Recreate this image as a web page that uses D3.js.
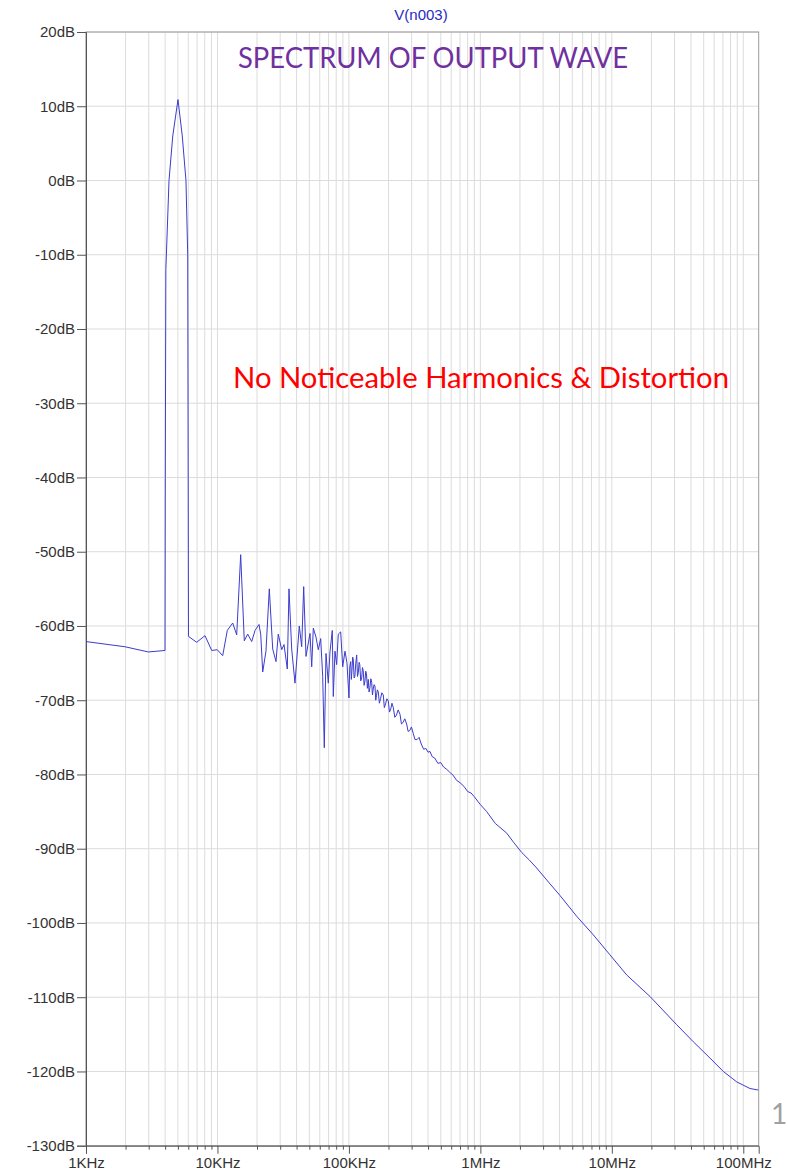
<!DOCTYPE html>
<html><head><meta charset="utf-8">
<script src="https://cdn.jsdelivr.net/npm/d3@7"></script>
<style>body{margin:0;background:#fff}svg{display:block}</style>
</head><body><svg id="c" width="788" height="1172"></svg>
<script>
// ---- data ----
const traceName = "V(n003)";
const chartTitle = "SPECTRUM OF OUTPUT WAVE";
const annotation = "No Noticeable Harmonics & Distortion";
const pageNumber = "1";

const freqKHz = [1.00,1.98,2.98,3.99,4.01,4.05,4.28,4.57,5.01,5.40,5.76,5.94,5.99,6.02,6.95,8.04,9.04,9.97,10.96,11.88,13.06,14.01,15.02,16.0,16.98,18.22,19.31,20.70,21.33,22.09,23.39,24.80,26.32,27.88,29.02,30.81,32.08,33.99,35.01,36.70,38.89,41.93,43.73,45.29,47.16,49.10,50.58,52.12,53.59,56.19,58.50,61.00,63.17,64.97,66.93,69.68,71.79,74.74,76.06,78.36,80.72,83.02,86.59,89.68,93.37,96.69,
  100.1,101.5,103.2,104.3,105.5,106.8,108.0,109.5,111.0,112.8,114.6,116.2,117.9,119.5,121.0,123.0,125.1,126.8,128.5,130.5,132.5,134.2,136.0,138.2,140.4,142.4,144.5,146.8,149.1,151.0,153.0,155.4,157.9,160.0,162.0,164.6,167.3,170.5,174.0,178.0,182.6,186.0,190.0,194.5,199.3,203.5,208.0,212.5,217.6,223.5,230.0,237.0,244.7,251.0,258.0,266.0,275.0,282.0,290.0,299.0,308.9,318.0,330.0,342.0,355.0,370.0,385.0,400.0,413.9,430.0,450.0,475.0,500.0,525.0,554.3,585.0,620.0,660.0,699.8,750.0,800.0,850.0,900.0,993.4,1117,1300,1586,1800,2062,2350,2682,3300,4034,5404,7228,9683,12970,19510,31140,41660,55810,70460,89080,112500,130000];
const magDB = [-62.1,-62.8,-63.5,-63.3,-40,-12,0,6,10.9,6,0,-10,-40,-61.4,-62.2,-61.3,-63.3,-63.2,-64.0,-60.6,-59.6,-61.2,-50.4,-62.0,-61.1,-62.1,-60.6,-59.8,-61.1,-66.2,-63.4,-55.0,-63.1,-64.8,-61.1,-63.2,-62.5,-65.8,-55.0,-63.1,-67.7,-60.0,-62.8,-54.7,-64.1,-62.3,-61.0,-65.5,-60.3,-61.5,-63.2,-61.7,-66.8,-76.4,-63.7,-67.7,-63.5,-60.6,-69.5,-63.4,-65.2,-61.1,-60.8,-65.5,-63.4,-65.0,
  -69.7,-65.5,-64.8,-67.2,-66.0,-64.2,-64.5,-67.0,-66.8,-65.0,-63.9,-66.8,-66.3,-64.9,-65.2,-67.4,-67.0,-65.6,-66.0,-68.0,-67.4,-66.1,-66.4,-68.4,-67.2,-68.9,-68.3,-67.1,-67.6,-69.3,-68.5,-67.9,-68.1,-70.0,-69.4,-68.6,-68.9,-70.4,-69.8,-69.0,-69.3,-71.0,-70.5,-69.8,-70.1,-71.6,-71.2,-70.4,-71.0,-72.3,-72.0,-71.3,-71.9,-73.2,-73.0,-72.5,-73.2,-74.2,-74.1,-73.6,-74.5,-75.3,-75.3,-75.0,-75.9,-76.6,-76.5,-77.0,-76.9,-77.6,-77.8,-78.5,-78.4,-79.0,-79.3,-79.7,-80.1,-80.8,-81.1,-81.6,-82.3,-82.5,-83.0,-84.0,-85.0,-86.6,-87.9,-89.2,-90.5,-91.5,-92.6,-94.5,-96.3,-99.1,-101.6,-104.3,-107.0,-109.9,-113.7,-116.0,-118.2,-120.0,-121.4,-122.3,-122.5];

const yTickValues = [20,10,0,-10,-20,-30,-40,-50,-60,-70,-80,-90,-100,-110,-120,-130];
const yTickLabels = ["20dB","10dB","0dB","-10dB","-20dB","-30dB","-40dB","-50dB","-60dB","-70dB","-80dB","-90dB","-100dB","-110dB","-120dB","-130dB"];
const xMajorTicks = [1,10,100,1000,10000,100000];
const xTickLabels = ["1KHz","10KHz","100KHz","1MHz","10MHz","100MHz"];
const xMinorMultipliers = [2,3,4,5,6,7,8,9];

// ---- layout ----
const L = 86, R = 758.7, T = 32, B = 1145.7;
const svg = d3.select("#c");
const x = d3.scaleLog().domain([1, 131000]).range([L, R]);
const y = d3.scaleLinear().domain([-130, 20]).range([B, T]);

const minorTicks = [];
xMajorTicks.forEach(d => xMinorMultipliers.forEach(k => { if (k*d <= 131000) minorTicks.push(k*d); }));

// grid
const grid = svg.append("g").attr("stroke", "#dcdcdc").attr("stroke-width", 1);
minorTicks.concat(xMajorTicks).forEach(v => {
  grid.append("line").attr("x1", x(v)).attr("x2", x(v)).attr("y1", T).attr("y2", B);
});
yTickValues.forEach(v => {
  grid.append("line").attr("x1", L).attr("x2", R).attr("y1", y(v)).attr("y2", y(v));
});

// frame
svg.append("rect").attr("x", L).attr("y", T).attr("width", R - L).attr("height", B - T)
  .attr("fill", "none").attr("stroke", "#9a9a9a").attr("stroke-width", 1);

// axes
const fmtY = d => yTickLabels[yTickValues.indexOf(d)];
const yAxis = d3.axisLeft(y).tickValues(yTickValues).tickFormat(fmtY).tickSize(9).tickPadding(2);
const gy = svg.append("g").attr("transform", `translate(${L},0)`).call(yAxis);
gy.select(".domain").attr("stroke", "#555");
gy.selectAll(".tick line").attr("stroke", "#555");
gy.selectAll("text").attr("font-family", "Liberation Sans, Arial, sans-serif").attr("font-size", 15).attr("fill", "#333");

const fmtX = d => xTickLabels[xMajorTicks.indexOf(d)];
const xAxis = d3.axisBottom(x).tickValues(xMajorTicks).tickFormat(fmtX).tickSize(8).tickPadding(4);
const gx = svg.append("g").attr("transform", `translate(0,${B})`).call(xAxis);
gx.select(".domain").attr("stroke", "#555");
gx.selectAll(".tick line").attr("stroke", "#555");
gx.selectAll("text").attr("font-family", "Liberation Sans, Arial, sans-serif").attr("font-size", 15).attr("fill", "#333");
const xMinorAxis = d3.axisBottom(x).tickValues(minorTicks).tickFormat("").tickSize(4);
const gxm = svg.append("g").attr("transform", `translate(0,${B})`).call(xMinorAxis);
gxm.select(".domain").remove();
gxm.selectAll(".tick line").attr("stroke", "#555");

// trace
const pts = freqKHz.map((f, i) => [f, magDB[i]]);
const line = d3.line().x(d => x(d[0])).y(d => y(d[1]));
svg.append("path").datum(pts).attr("d", line).attr("fill", "none")
  .attr("stroke", "#3c3cce").attr("stroke-width", 1).attr("stroke-linejoin", "round");

// texts
svg.append("text").attr("x", 421).attr("y", 20).attr("text-anchor", "middle")
  .attr("font-family", "Liberation Sans, Arial, sans-serif").attr("font-size", 15)
  .attr("fill", "#2a2ac0").text(traceName);
svg.append("text").attr("x", 238).attr("y", 68).attr("textLength", 390).attr("lengthAdjust", "spacingAndGlyphs")
  .attr("font-family", "Lato, 'Open Sans', sans-serif").attr("font-size", 29)
  .attr("fill", "#7030A0").text(chartTitle);
svg.append("text").attr("x", 233).attr("y", 388).attr("textLength", 496).attr("lengthAdjust", "spacingAndGlyphs")
  .attr("font-family", "Lato, 'Open Sans', sans-serif").attr("font-size", 28)
  .attr("fill", "#ff0000").text(annotation);
svg.append("text").attr("x", 771).attr("y", 1124)
  .attr("font-family", "Lato, 'Open Sans', sans-serif").attr("font-size", 28)
  .attr("fill", "#a0a0a0").text(pageNumber);
</script>
</body></html>
